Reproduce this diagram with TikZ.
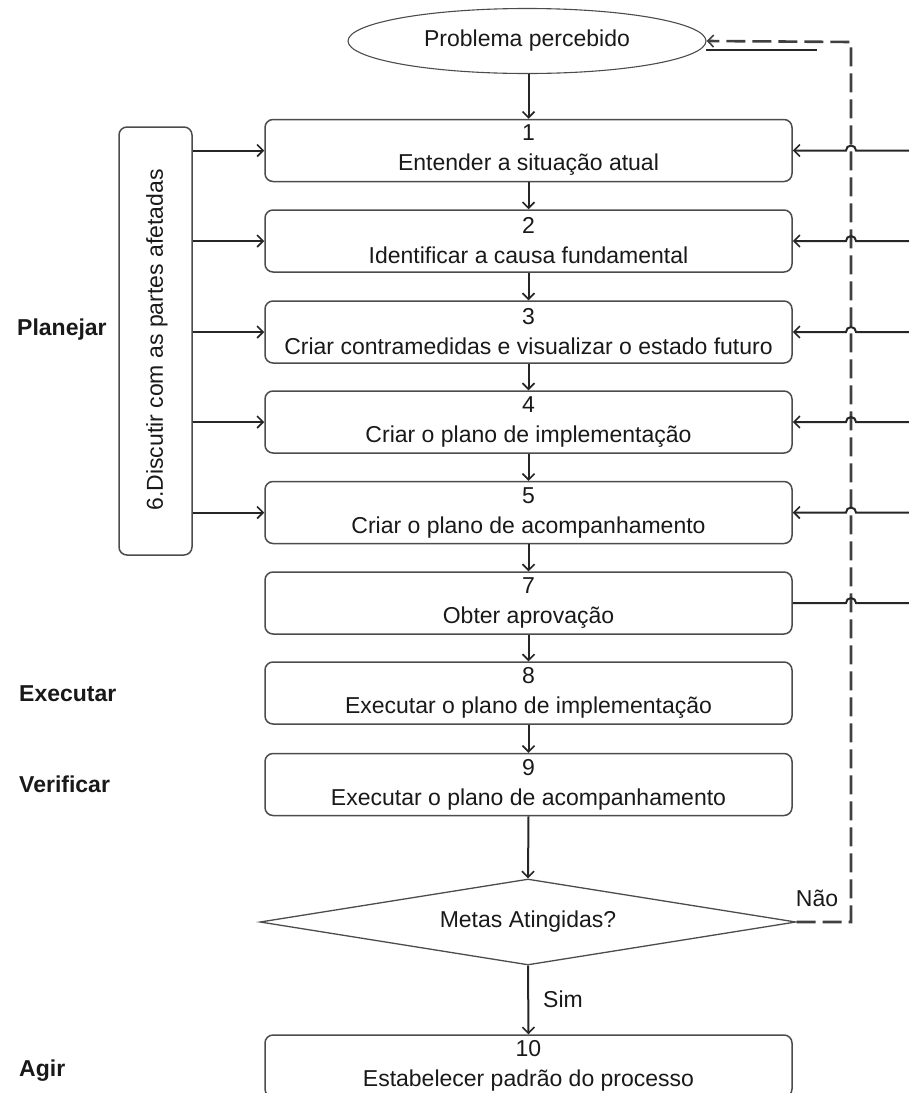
\documentclass[tikz,border=0pt]{standalone}
\usepackage{fontspec}
\setmainfont{Liberation Sans}
\usetikzlibrary{arrows.meta,shapes.geometric}
\begin{document}
\begin{tikzpicture}[x=1pt,y=-1pt,
  txt/.style={font=\fontsize{23}{30}\selectfont,text=black!90},
  box/.style={txt,draw=black!70,line width=1.5pt,rounded corners=8pt,minimum width=527pt,minimum height=62pt,inner sep=0pt,align=center},
  conn/.style={draw=black!85,line width=2pt},
  tipstyle/.style={-{Straight Barb[length=6pt,width=12pt,line width=1.6pt]}},
  arr/.style={conn,tipstyle},
  dashconn/.style={draw=black!75,line width=2.6pt,dash pattern=on 19pt off 7pt},
  lbl/.style={font=\fontsize{23}{28}\selectfont\bfseries,anchor=west,inner sep=0pt,text=black!90}
]
\useasboundingbox (0,0) rectangle (909,1093);
\clip (0,0) rectangle (909,1093);

% nodes
\node[ellipse,draw=black!70,line width=1.1pt,minimum width=358pt,minimum height=65pt,inner sep=0pt,txt] (p) at (527,41) {Problema percebido};
\node[box] (b1) at (528.5,150.5) {1\\Entender a situação atual};
\node[box] (b2) at (528.5,241) {2\\Identificar a causa fundamental};
\node[box] (b3) at (528.5,332) {3\\Criar contramedidas e visualizar o estado futuro};
\node[box] (b4) at (528.5,422) {4\\Criar o plano de implementação};
\node[box] (b5) at (528.5,512.5) {5\\Criar o plano de acompanhamento};
\node[box] (b7) at (528.5,603) {7\\Obter aprovação};
\node[box] (b8) at (528.5,693) {8\\Executar o plano de implementação};
\node[box] (b9) at (528.5,784.5) {9\\Executar o plano de acompanhamento};
\node[diamond,aspect=6.2,draw=black!70,line width=1.3pt,minimum width=536pt,minimum height=86pt,inner sep=0pt,txt] (d) at (528,922) {Metas Atingidas?};
\node[box] (b10) at (528.5,1066) {10\\Estabelecer padrão do processo};

\node[draw=black!70,line width=1.5pt,rounded corners=8pt,minimum width=73pt,minimum height=428pt,inner sep=0pt] (l) at (155.5,341) {};
\node[txt,rotate=90,inner sep=0pt] (lt) at (157,340) {6.Discutir com as partes afetadas};

\node[lbl] (planejar) at (17,330) {Planejar};
\node[lbl] (executar) at (19,694) {Executar};
\node[lbl] (verificar) at (19,784) {Verificar};
\node[lbl] (agir) at (19,1071) {Agir};

\node[txt,inner sep=0pt] (nao) at (817,898) {Não};
\node[txt,inner sep=0pt] (sim) at (563,999) {Sim};

% coordinates on the right side
\coordinate (tc) at (851,42);
\coordinate (u1) at (706,50);
\coordinate (u2) at (817,50);
\foreach \n/\y in {1/150.5,2/241,3/332,4/422,5/512.5,7/603}{
  \coordinate (r\n) at (909,\y);
  \coordinate (j\n) at (851,\y);
}

% dashed feedback loop
\draw[dashconn,tipstyle] (d.east) -| (tc) -- (p.east);
\draw[conn] (u1) -- (u2);

% main flow
\draw[arr] (p.south -| b1.north) -- (b1.north);
\draw[arr] (b1.south) -- (b2.north);
\draw[arr] (b2.south) -- (b3.north);
\draw[arr] (b3.south) -- (b4.north);
\draw[arr] (b4.south) -- (b5.north);
\draw[arr] (b5.south) -- (b7.north);
\draw[arr] (b7.south) -- (b8.north);
\draw[arr] (b8.south) -- (b9.north);
\draw[arr] (b9.south) -- (d.north);
\draw[arr] (d.south) -- (b10.north);

% left arrows
\foreach \n in {1,2,3,4,5}{
  \draw[arr] (l.east |- b\n.west) -- (b\n.west);
}

% right arrows with line jumps
\foreach \n in {1,2,3,4,5}{
  \draw[arr] (r\n) -- ([xshift=5pt]j\n) arc[start angle=0,end angle=180,radius=5pt] -- (b\n.east);
}
\draw[conn] (b7.east) -- ([xshift=-5pt]j7) arc[start angle=180,end angle=0,radius=5pt] -- (r7);
\end{tikzpicture}
\end{document}
